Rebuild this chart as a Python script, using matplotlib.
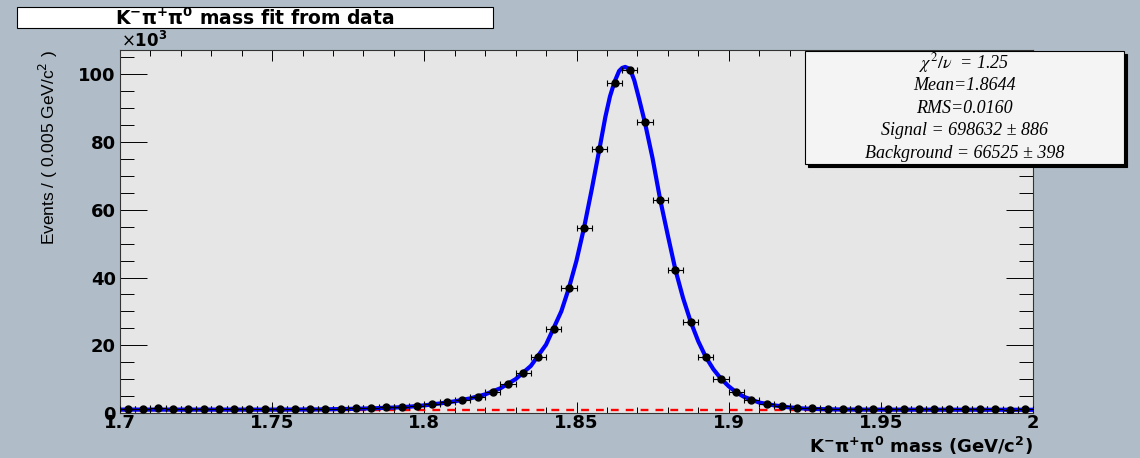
import matplotlib.pyplot as plt
import numpy as np
from matplotlib.patches import Rectangle
from matplotlib.ticker import MultipleLocator

plt.rcParams['mathtext.fontset'] = 'dejavusans'

# histogram binning (GeV), 60 bins of 0.005
lo, hi, nbins = 1.7, 2.0, 60

# events per bin in units of 10^3
counts = [1.25, 1.30, 1.35, 1.30, 1.25, 1.20, 1.25, 1.20, 1.20, 1.25,
          1.20, 1.25, 1.25, 1.30, 1.30, 1.40, 1.50, 1.70, 1.90, 2.20,
          2.60, 3.20, 3.90, 4.80, 6.30, 8.70, 11.8, 16.6, 24.9, 37.0,
          54.7, 78.1, 97.6, 101.2, 85.8, 63.0, 42.3, 26.9, 16.6, 10.1,
          6.1, 3.9, 2.7, 2.1, 1.6, 1.35, 1.25, 1.20, 1.15, 1.10,
          1.15, 1.10, 1.10, 1.05, 1.10, 1.05, 1.10, 1.05, 1.00, 1.05]

# fitted total pdf
fit_x = [1.700, 1.750, 1.765, 1.775, 1.780, 1.785, 1.790, 1.795, 1.800, 1.805,
         1.810, 1.815, 1.820, 1.825, 1.830, 1.835, 1.840, 1.845, 1.8475, 1.850,
         1.8525, 1.855, 1.8575, 1.8595, 1.861, 1.8625, 1.864, 1.865, 1.866, 1.867,
         1.868, 1.869, 1.8705, 1.8725, 1.875, 1.8775, 1.880, 1.8825, 1.885, 1.8875,
         1.890, 1.8925, 1.895, 1.8975, 1.900, 1.9025, 1.905, 1.910, 1.915, 1.920,
         1.925, 1.930, 1.935, 1.945, 2.000]
fit_y = [1.00, 1.00, 1.05, 1.20, 1.30, 1.45, 1.60, 1.85, 2.25, 2.80,
         3.45, 4.30, 5.50, 7.30, 10.0, 13.9, 20.2, 30.0, 36.9, 45.0,
         54.8, 66.0, 77.8, 87.5, 93.5, 97.8, 101.0, 101.9, 102.2, 101.8,
         100.6, 98.2, 93.0, 85.7, 75.2, 63.0, 52.5, 42.3, 34.0, 27.0,
         21.2, 16.5, 12.9, 10.1, 7.9, 6.1, 4.8, 3.1, 2.25, 1.65,
         1.30, 1.15, 1.05, 1.00, 0.95]

# background component
bkg_x = [1.7, 2.0]
bkg_y = [0.8, 0.8]

stats_lines = [r'$\chi^{2}/\nu$  = 1.25',
               'Mean=1.8644',
               'RMS=0.0160',
               'Signal = 698632 ± 886',
               'Background = 66525 ± 398']

title = r'K$^{\mathbf{-}}\mathbf{\pi}^{\mathbf{+}}\mathbf{\pi}^{\mathbf{0}}$ mass fit from data'
xlab = r'K$^{\mathbf{-}}\mathbf{\pi}^{\mathbf{+}}\mathbf{\pi}^{\mathbf{0}}$ mass (GeV/c$^{\mathbf{2}}$)'
ylab = r'Events / ( 0.005 GeV/c$^{2}$ )'

edges = np.linspace(lo, hi, nbins + 1)
centers = 0.5 * (edges[:-1] + edges[1:])
counts = np.array(counts)
yerr = np.sqrt(counts * 1000) / 1000

W, H = 1140, 458


def fx(x):
    return x / W


def fy(y):
    return 1 - y / H


fig = plt.figure(figsize=(11.4, 4.58), dpi=100, facecolor='#b0bdc8')
ax = fig.add_axes([fx(120), fy(413), 913 / W, 363 / H])
ax.set_facecolor('#e6e6e6')

ax.plot(bkg_x, bkg_y, color='red', lw=1.7, dashes=(3.3, 3), zorder=2)
ax.plot(fit_x, fit_y, color='blue', lw=3, zorder=3)
ax.errorbar(centers, counts, xerr=0.0025, yerr=yerr, fmt='o', color='black',
            ms=5, elinewidth=0.8, capsize=2, capthick=0.8, zorder=4)

ax.set_xlim(lo, hi)
ax.set_ylim(0, 107.2)
ax.xaxis.set_major_locator(MultipleLocator(0.05))
ax.xaxis.set_minor_locator(MultipleLocator(0.01))
ax.yaxis.set_major_locator(MultipleLocator(20))
ax.yaxis.set_minor_locator(MultipleLocator(5))
ax.set_xticks([1.7, 1.75, 1.8, 1.85, 1.9, 1.95, 2.0],
              ['1.7', '1.75', '1.8', '1.85', '1.9', '1.95', '2'])
ax.tick_params(axis='both', which='both', direction='in', top=True, right=True,
               width=0.7, color='black')
ax.tick_params(axis='x', which='major', length=8, pad=1)
ax.tick_params(axis='x', which='minor', length=4)
ax.tick_params(axis='y', which='major', length=19.5, pad=3)
ax.tick_params(axis='y', which='minor', length=10)
for lab in ax.get_xticklabels() + ax.get_yticklabels():
    lab.set_fontweight('bold')
    lab.set_fontsize(13)
    lab.set_family('DejaVu Sans')
for s in ax.spines.values():
    s.set_linewidth(0.8)
    s.set_color('#333333')

ax.set_xlabel(xlab, fontsize=13, fontweight='bold', family='DejaVu Sans', loc='right')
ax.xaxis.set_label_coords(1.0, -0.092)
ax.xaxis.label.set_va('center')
ax.set_ylabel(ylab, fontsize=12.5, family='Liberation Sans', loc='top')
ax.yaxis.set_label_coords(-0.066, 1.0)

fig.text(fx(121), fy(47), r'$\times$10$^{\mathbf{3}}$', fontsize=12,
         fontweight='bold', family='DejaVu Sans', ha='left', va='baseline')

# title box
fig.patches.append(Rectangle((fx(17), fy(28.3)), (493 - 17) / W, 21 / H,
                             transform=fig.transFigure, facecolor='white',
                             edgecolor='black', lw=0.8, zorder=5))
fig.text(fx(255), fy(18), title, fontsize=13.5, fontweight='bold',
         family='DejaVu Sans', ha='center', va='center', zorder=6)

# stats box with shadow
fig.patches.append(Rectangle((fx(808), fy(167)), (1124 - 805) / W, (164 - 50.7) / H,
                             transform=fig.transFigure, facecolor='black',
                             edgecolor='black', lw=0.8, zorder=5))
fig.patches.append(Rectangle((fx(805), fy(164)), (1124 - 805) / W, (164 - 50.7) / H,
                             transform=fig.transFigure, facecolor='#f4f4f4',
                             edgecolor='black', lw=0.8, zorder=6))
line_y = [63.3, 86, 108.3, 130.7, 153.3]
for txt, yy in zip(stats_lines, line_y):
    fig.text(fx(964.5), fy(yy), txt, fontsize=13, style='italic',
             family='Liberation Serif', math_fontfamily='stix',
             ha='center', va='center', zorder=7)

fig.savefig('out.png', dpi=100, facecolor=fig.get_facecolor())
